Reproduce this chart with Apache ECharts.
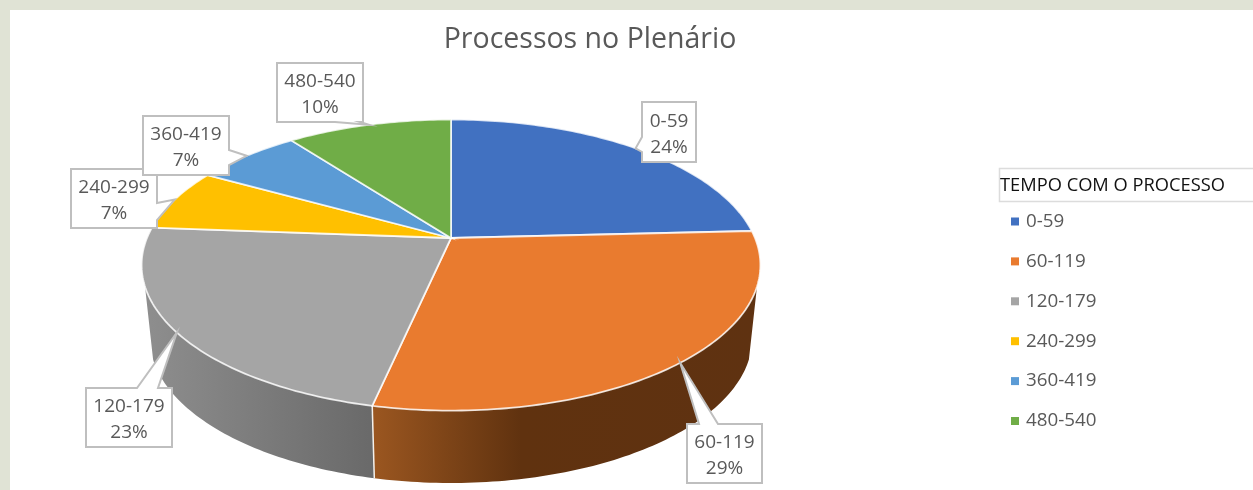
<!DOCTYPE html>
<html>
<head>
<meta charset="utf-8">
<title>Processos no Plenário</title>
<script src="https://cdn.jsdelivr.net/npm/echarts@6/dist/echarts.min.js"></script>
<style>
  html, body { margin: 0; padding: 0; background: #e0e3d5; }
  #chart-container { width: 1253px; height: 490px; }
</style>
</head>
<body>
<div id="chart-container"></div>
<script>
// values, labels are these rounded
const categories = ['0-59', '60-119', '120-179', '240-299', '360-419', '480-540'];
const percents = [24.2, 29.2, 22.8, 6.9, 6.6, 10.3];
const titleText = 'Processos no Plenário';
const legendTitle = 'TEMPO COM O PROCESSO';

const colors = ['#4171c1', '#e97b2f', '#a5a5a5', '#ffc000', '#5b9bd5', '#70ad47'];
const fontName = '"Open Sans", sans-serif';

// tilted disc: the top face and the lower rim of the wall
const topDisc = { cx: 451, cy: 238, rx: 304, ry: 140.5 };
const lowDisc = { cx: 451, cy: 311, rx: 296, ry: 140 };
const perspective = 0.186;
// part of the wall that faces the viewer, degrees clockwise from the top
const frontFrom = 109;
const frontTo = 251;

// callout boxes [x, y, w, h] and the side + span the pointer leaves from
const boxes = [
  { rect: [642, 102, 54, 60], side: 'left', span: [137, 152] },
  { rect: [687, 424, 75, 59], side: 'top', span: [699, 718] },
  { rect: [86, 388, 86, 59], side: 'top', span: [137, 158] },
  { rect: [71, 169, 86, 59], side: 'right', span: [203, 220] },
  { rect: [143, 116, 86, 59], side: 'right', span: [150, 165] },
  { rect: [277, 63, 86, 59], side: 'bottom', span: [335, 360] }
];

const total = percents.reduce((a, b) => a + b, 0);
const starts = [];
percents.reduce((sum, v, i) => {
  starts[i] = sum / total * 360;
  return sum + v;
}, 0);

const project = (disc, deg) => {
  const t = deg * Math.PI / 180;
  const x = Math.sin(t);
  const y = -Math.cos(t);
  const d = 1 - perspective * y;
  return [disc.cx + disc.rx * x / d, disc.cy + disc.ry * y / d];
};

const arc = (disc, from, to) => {
  const pts = [];
  const n = Math.max(2, Math.ceil(Math.abs(to - from)));
  for (let i = 0; i <= n; i++) {
    pts.push(project(disc, from + (to - from) * i / n));
  }
  return pts;
};

const wallFill = (i) => {
  if (i === 1) {
    return {
      type: 'linear', global: true, x: 375, y: 0, x2: 760, y2: 0,
      colorStops: [
        { offset: 0, color: '#9a5620' },
        { offset: 0.38, color: '#60320f' },
        { offset: 1, color: '#5f3211' }
      ]
    };
  }
  return {
    type: 'linear', global: true, x: 145, y: 0, x2: 375, y2: 0,
    colorStops: [
      { offset: 0, color: '#8e8e8e' },
      { offset: 1, color: '#696969' }
    ]
  };
};

const calloutPoints = (box, tip) => {
  const [x, y, w, h] = box.rect;
  const [a, b] = box.span;
  if (box.side === 'left') {
    return [[x, y], [x + w, y], [x + w, y + h], [x, y + h], [x, b], tip, [x, a]];
  }
  if (box.side === 'right') {
    return [[x, y], [x + w, y], [x + w, a], tip, [x + w, b], [x + w, y + h], [x, y + h]];
  }
  if (box.side === 'top') {
    return [[x, y], [a, y], tip, [b, y], [x + w, y], [x + w, y + h], [x, y + h]];
  }
  return [[x, y], [x + w, y], [x + w, y + h], [b, y + h], tip, [a, y + h], [x, y + h]];
};

const renderSlice = (i) => (params, api) => {
  const start = starts[i];
  const end = start + api.value(0) / total * 360;
  const mid = (start + end) / 2;
  const children = [];

  // wall, only where the slice is on the front
  const from = Math.max(start, frontFrom);
  const to = Math.min(end, frontTo);
  if (from < to) {
    const wall = arc(topDisc, from, to).concat(arc(lowDisc, to, from));
    children.push({
      type: 'polygon',
      z2: 1,
      shape: { points: wall },
      style: { fill: wallFill(i) }
    });
    if (end < frontTo) {
      const p1 = project(topDisc, end);
      const p2 = project(lowDisc, end);
      children.push({
        type: 'line',
        z2: 2,
        shape: { x1: p1[0], y1: p1[1], x2: p2[0], y2: p2[1] },
        style: { stroke: '#f4f1ec', lineWidth: 1.5 }
      });
    }
  }

  // top face
  children.push({
    type: 'polygon',
    z2: 10,
    shape: { points: [[topDisc.cx, topDisc.cy]].concat(arc(topDisc, start, end)) },
    style: { fill: colors[i], stroke: 'rgba(255,255,255,0.8)', lineWidth: 1.8 }
  });

  // callout, the pointer ends on the rim at the middle of the slice
  const box = boxes[i];
  const [bx, by, bw, bh] = box.rect;
  children.push({
    type: 'polygon',
    z2: 100,
    shape: { points: calloutPoints(box, project(topDisc, mid)) },
    style: { fill: '#fff', stroke: '#bfbfbf', lineWidth: 2 }
  });
  children.push({
    type: 'text',
    z2: 101,
    style: {
      x: bx + bw / 2,
      y: by + bh / 2 + 2.5,
      text: categories[i] + '\n' + Math.round(api.value(0) / total * 100) + '%',
      align: 'center',
      verticalAlign: 'middle',
      fontFamily: fontName,
      fontSize: 19,
      lineHeight: 26,
      fill: '#595959'
    }
  });

  return { type: 'group', children: children };
};

const chart = echarts.init(document.getElementById('chart-container'), null, { renderer: 'canvas' });

chart.setOption({
  animation: false,
  backgroundColor: '#e0e3d5',
  title: [
    {
      text: titleText,
      left: 590,
      top: 25,
      textAlign: 'center',
      padding: 0,
      textStyle: { fontFamily: fontName, fontSize: 28.5, fontWeight: 'normal', color: '#595959' }
    },
    {
      text: legendTitle,
      left: 1000,
      top: 177,
      padding: 0,
      textStyle: { fontFamily: fontName, fontSize: 18.3, fontWeight: 'normal', color: '#111' }
    }
  ],
  legend: {
    orient: 'vertical',
    left: 1011,
    top: 212,
    padding: 0,
    icon: 'rect',
    itemWidth: 8,
    itemHeight: 8,
    itemGap: 20.9,
    selectedMode: false,
    data: categories,
    textStyle: { fontFamily: fontName, fontSize: 18.8, color: '#595959', padding: [0, 0, 0, 2] }
  },
  graphic: [
    { type: 'rect', z: -10, shape: { x: 10, y: 10, width: 1243, height: 480 }, style: { fill: '#fff' } },
    { type: 'rect', z: 0, shape: { x: 999.5, y: 168.5, width: 260, height: 33 }, style: { fill: '#fff', stroke: '#dcdcdc', lineWidth: 1.5 } }
  ],
  series: categories.map((name, i) => ({
    type: 'custom',
    name: name,
    coordinateSystem: 'none',
    silent: true,
    itemStyle: { color: colors[i] },
    renderItem: renderSlice(i),
    data: [[percents[i]]]
  }))
});
</script>
</body>
</html>
